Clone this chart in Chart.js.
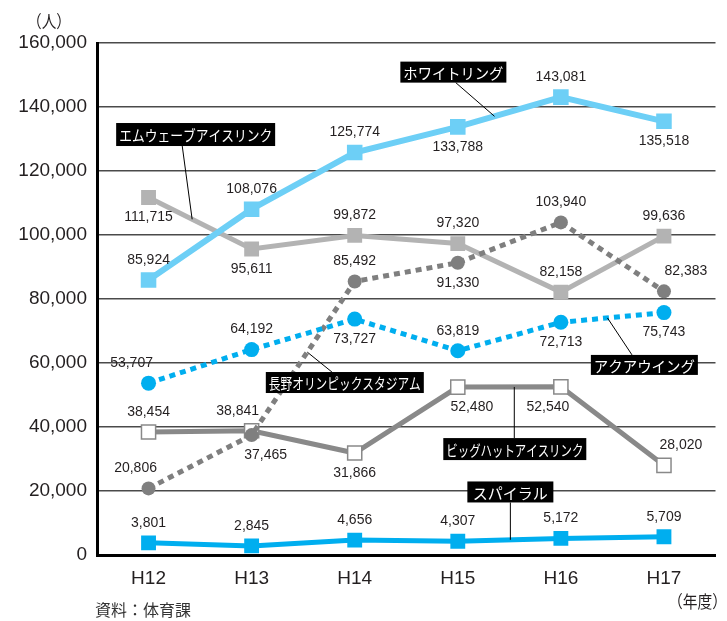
<!DOCTYPE html>
<html>
<head>
<meta charset="utf-8">
<script src="https://cdn.jsdelivr.net/npm/chart.js@4.4.0/dist/chart.umd.min.js"></script>
<style>
    html, body { margin: 0; padding: 0; background: #fff; }
    #wrap { width: 727px; height: 621px; position: relative; }
</style>
</head>
<body>
<div id="wrap"><canvas id="rinkChart"></canvas></div>
<script>
// 年度
const years = ['H12', 'H13', 'H14', 'H15', 'H16', 'H17'];

// 施設別利用者数（人）
const whiteRing = [85924, 108076, 125774, 133788, 143081, 135518];
const mWave = [111715, 95611, 99872, 97320, 82158, 99636];
const stadium = [20806, 37465, 85492, 91330, 103940, 82383];
const aquaWing = [53707, 64192, 73727, 63819, 72713, 75743];
const bigHat = [38454, 38841, 31866, 52480, 52540, 28020];
const spiral = [3801, 2845, 4656, 4307, 5172, 5709];

const seriesNames = ['ホワイトリング', 'アクアウイング', '長野オリンピックスタジアム', 'エムウェーブアイスリンク', 'ビッグハットアイスリンク', 'スパイラル'];
const yTicks = [0, 20000, 40000, 60000, 80000, 100000, 120000, 140000, 160000];

const NUM_FONT = '"Liberation Sans", Arial, sans-serif';
const JP_FONT = '"Noto Sans CJK JP", sans-serif';

// where each value label sits: a = above, b = below; shift = px sideways
const labelSide = {
    whiteRing: ['a', 'a', 'a', 'b', 'a', 'b'],
    aquaWing: ['a', 'a', 'b', 'a', 'b', 'b'],
    stadium: ['a', 'b', 'a', 'b', 'a', 'a'],
    mWave: ['b', 'b', 'a', 'a', 'a', 'a'],
    bigHat: ['a', 'a', 'b', 'b', 'b', 'a'],
    spiral: ['a', 'a', 'a', 'a', 'a', 'a']
};
const labelShift = {
    whiteRing: [0, 0, 0, 0, 0, 0],
    aquaWing: [-17, 0, 0, 0, 0, 0],
    stadium: [-13, 14, 0, 0, 0, 22],
    mWave: [0, 0, 0, 0, 0, 0],
    bigHat: [0, -14, 0, 14, -13, 17],
    spiral: [0, 0, 0, 0, 0, 0]
};

// black name boxes with a leader line to the series
const callouts = [
    { text: 'ホワイトリング', data: whiteRing, at: [2.957, 150900], w: 106, h: 21, from: 2.98, edge: 'bottom', to: 3.356 },
    { text: 'エムウェーブアイスリンク', data: mWave, at: [0.457, 131400], w: 159, h: 23, from: 0.327, edge: 'bottom', to: 0.423 },
    { text: '長野オリンピックスタジアム', data: stadium, at: [1.904, 53900], w: 158, h: 21, from: 1.779, edge: 'top', to: 1.54 },
    { text: 'アクアウイング', data: aquaWing, at: [4.81, 59400], w: 107, h: 20, from: 4.69, edge: 'top', to: 4.452 },
    { text: 'ビッグハットアイスリンク', data: bigHat, at: [3.553, 33100], w: 143, h: 22, from: 3.548, edge: 'top', to: 3.548 },
    { text: 'スパイラル', data: spiral, at: [3.51, 19700], w: 86, h: 21, from: 3.51, edge: 'bottom', to: 3.51 }
];

const fmt = v => v.toLocaleString('en-US');

const interp = (arr, t) => {
    const i = Math.min(Math.floor(t), arr.length - 2);
    const f = t - i;
    return arr[i] + (arr[i + 1] - arr[i]) * f;
};

const valueLabels = {
    id: 'valueLabels',
    afterDatasetsDraw(chart) {
        const ctx = chart.ctx;
        ctx.save();
        ctx.font = '14px ' + NUM_FONT;
        ctx.fillStyle = '#231f20';
        ctx.textAlign = 'center';
        ctx.textBaseline = 'middle';
        chart.data.datasets.forEach((ds, di) => {
            const meta = chart.getDatasetMeta(di);
            meta.data.forEach((pt, i) => {
                const side = labelSide[ds.key][i];
                const dx = labelShift[ds.key][i];
                const dy = side === 'a' ? -20 : 20;
                ctx.fillText(fmt(ds.data[i]), pt.x + dx, pt.y + dy);
            });
        });
        ctx.restore();
    }
};

const calloutBoxes = {
    id: 'calloutBoxes',
    afterDatasetsDraw(chart) {
        const ctx = chart.ctx;
        const xs = chart.scales.x;
        const ys = chart.scales.y;
        ctx.save();
        callouts.forEach(c => {
            const cx = xs.getPixelForValue(c.at[0]);
            const cy = ys.getPixelForValue(c.at[1]);
            const sx = xs.getPixelForValue(c.from);
            const sy = c.edge === 'top' ? cy - c.h / 2 : cy + c.h / 2;
            const ex = xs.getPixelForValue(c.to);
            const ey = ys.getPixelForValue(interp(c.data, c.to));

            ctx.strokeStyle = '#000';
            ctx.lineWidth = 1;
            ctx.beginPath();
            ctx.moveTo(sx, sy);
            ctx.lineTo(ex, ey);
            ctx.stroke();

            ctx.fillStyle = '#000';
            ctx.fillRect(cx - c.w / 2, cy - c.h / 2, c.w, c.h);
            ctx.fillStyle = '#fff';
            ctx.font = '15px ' + JP_FONT;
            ctx.textAlign = 'center';
            ctx.textBaseline = 'middle';
            ctx.fillText(c.text, cx, cy + 1, c.w - 6);
        });
        ctx.restore();
    }
};

const extraText = {
    id: 'extraText',
    afterDraw(chart) {
        const ctx = chart.ctx;
        ctx.save();
        ctx.fillStyle = '#231f20';
        ctx.textBaseline = 'middle';
        ctx.font = '17px ' + JP_FONT;
        ctx.textAlign = 'left';
        ctx.fillText('（人）', 27, 22, 44);
        ctx.fillText('（年度）', 668, 602, 59);
        ctx.font = '16px ' + JP_FONT;
        ctx.fillStyle = '#333';
        ctx.fillText('資料：体育課', 95, 610);
        ctx.restore();
    }
};

const makeSet = (key, data, name, opts) => Object.assign({
    key: key,
    label: name,
    data: data,
    tension: 0,
    fill: false,
    borderCapStyle: 'butt',
    borderJoinStyle: 'miter'
}, opts);

const ctx = document.getElementById('rinkChart');

new Chart(ctx, {
    type: 'line',
    data: {
        labels: years,
        datasets: [
            makeSet('whiteRing', whiteRing, seriesNames[0], {
                borderColor: '#6dcff6', backgroundColor: '#6dcff6', borderWidth: 6,
                pointStyle: 'rect', pointRadius: 11, pointBorderWidth: 0
            }),
            makeSet('aquaWing', aquaWing, seriesNames[1], {
                borderColor: '#00aeef', backgroundColor: '#00aeef', borderWidth: 5,
                borderDash: [6, 5], pointStyle: 'circle', pointRadius: 7.5, pointBorderWidth: 0
            }),
            makeSet('stadium', stadium, seriesNames[2], {
                borderColor: '#7f7f7f', backgroundColor: '#7f7f7f', borderWidth: 5,
                borderDash: [6, 5], pointStyle: 'circle', pointRadius: 7, pointBorderWidth: 0
            }),
            makeSet('mWave', mWave, seriesNames[3], {
                borderColor: '#b3b3b3', backgroundColor: '#b3b3b3', borderWidth: 5,
                pointStyle: 'rect', pointRadius: 10.5, pointBorderWidth: 0
            }),
            makeSet('bigHat', bigHat, seriesNames[4], {
                borderColor: '#898989', backgroundColor: '#ffffff', borderWidth: 5,
                pointStyle: 'rect', pointRadius: 10, pointBorderWidth: 1.5,
                pointBorderColor: '#898989'
            }),
            makeSet('spiral', spiral, seriesNames[5], {
                borderColor: '#00aeef', backgroundColor: '#00aeef', borderWidth: 5,
                pointStyle: 'rect', pointRadius: 10.5, pointBorderWidth: 0
            })
        ]
    },
    options: {
        responsive: true,
        maintainAspectRatio: false,
        animation: false,
        events: [],
        layout: {
            padding: { top: 43, right: 3, left: 0, bottom: 0 }
        },
        plugins: {
            legend: { display: false },
            tooltip: { enabled: false },
            title: { display: false }
        },
        scales: {
            x: {
                offset: true,
                grid: { display: false, drawTicks: false },
                border: { display: true, color: '#000', width: 3 },
                ticks: {
                    color: '#231f20',
                    font: { family: NUM_FONT, size: 19 },
                    padding: 12
                },
                afterFit: scale => { scale.height = 66; }
            },
            y: {
                min: yTicks[0],
                max: yTicks[yTicks.length - 1],
                afterBuildTicks: scale => { scale.ticks = yTicks.map(v => ({ value: v })); },
                grid: {
                    drawTicks: false,
                    lineWidth: 1.5,
                    color: c => (c.tick && c.tick.value === 0) ? 'rgba(0,0,0,0)' : '#4a4a4a'
                },
                border: { display: true, color: '#000', width: 3 },
                ticks: {
                    color: '#231f20',
                    font: { family: NUM_FONT, size: 19 },
                    padding: 10,
                    callback: v => fmt(v)
                },
                afterFit: scale => { scale.width = 97; }
            }
        }
    },
    plugins: [valueLabels, calloutBoxes, extraText]
});
</script>
</body>
</html>
